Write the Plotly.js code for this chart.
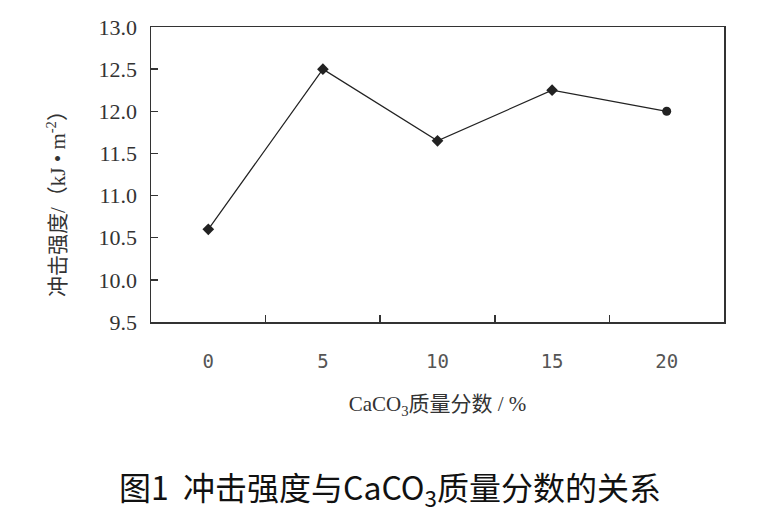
<!DOCTYPE html>
<html>
<head>
<meta charset="utf-8">
<script src="https://cdn.plot.ly/plotly-3.0.1.min.js"></script>
<style>html,body{margin:0;padding:0;background:#fff;}#chart{width:780px;height:512px;}</style>
</head>
<body>
<div id="chart"></div>
<script>
const categories = ["0", "5", "10", "15", "20"];
const impactStrength = [10.6, 12.5, 11.65, 12.25, 12.0];
const yTickValues = [9.5, 10.0, 10.5, 11.0, 11.5, 12.0, 12.5, 13.0];
const yTickLabels = ["9.5", "10.0", "10.5", "11.0", "11.5", "12.0", "12.5", "13.0"];
const captionText = "图1  冲击强度与CaCO<sub>3</sub>质量分数的关系";
const xTitleText = "CaCO<sub>3</sub>质量分数 / %";
const yTitleText = "冲击强度/（kJ • m<sup>-2</sup>）";

const serifFont = "Liberation Serif";
const cjkFont = "Liberation Serif, Noto Sans CJK SC, serif";
const monoFont = "DejaVu Sans Mono, Liberation Mono, monospace";

const trace = {
  x: categories,
  y: impactStrength,
  type: 'scatter',
  mode: 'lines+markers',
  line: {color: '#222', width: 1.2},
  marker: {color: '#222', size: 9, symbol: ['diamond','diamond','diamond','diamond','circle']},
  showlegend: false,
  hoverinfo: 'x+y'
};

const layout = {
  width: 780,
  height: 512,
  font: {family: serifFont, size: 20, color: '#333'},
  paper_bgcolor: '#fff',
  plot_bgcolor: '#fff',
  margin: {l: 151, r: 56, t: 27, b: 190},
  title: {
    text: captionText,
    x: 0.5, xref: 'container', xanchor: 'center',
    y: 0.045, yref: 'container', yanchor: 'middle',
    font: {family: "Noto Sans CJK SC, Liberation Sans, sans-serif", size: 32, color: '#111'}
  },
  xaxis: {
    type: 'category',
    range: [-0.5, 4.5],
    tickson: 'boundaries',
    ticks: 'inside',
    ticklen: 7,
    tickwidth: 1.5,
    tickcolor: '#333',
    showline: true,
    linecolor: '#333',
    linewidth: 1.5,
    mirror: true,
    showgrid: false,
    zeroline: false,
    ticklabelstandoff: 22,
    tickfont: {family: monoFont, size: 19, color: '#555'},
    title: {text: xTitleText, standoff: 25, font: {family: cjkFont, size: 21, color: '#333'}}
  },
  yaxis: {
    range: [9.5, 13.0],
    tickmode: 'array',
    tickvals: yTickValues,
    ticktext: yTickLabels,
    ticks: 'inside',
    ticklen: 7,
    tickwidth: 1.5,
    tickcolor: '#333',
    showline: true,
    linecolor: '#333',
    linewidth: 1.5,
    mirror: true,
    showgrid: false,
    zeroline: false,
    ticklabelstandoff: 8,
    tickfont: {family: serifFont, size: 22, color: '#333'},
    title: {text: ''}
  },
  annotations: [{
    text: yTitleText,
    xref: 'paper', yref: 'paper',
    x: -0.166, y: 0.42,
    xanchor: 'center', yanchor: 'middle',
    textangle: -90,
    showarrow: false,
    font: {family: cjkFont, size: 21, color: '#333'}
  }]
};

Plotly.newPlot('chart', [trace], layout, {displayModeBar: false, staticPlot: true});
</script>
</body>
</html>
